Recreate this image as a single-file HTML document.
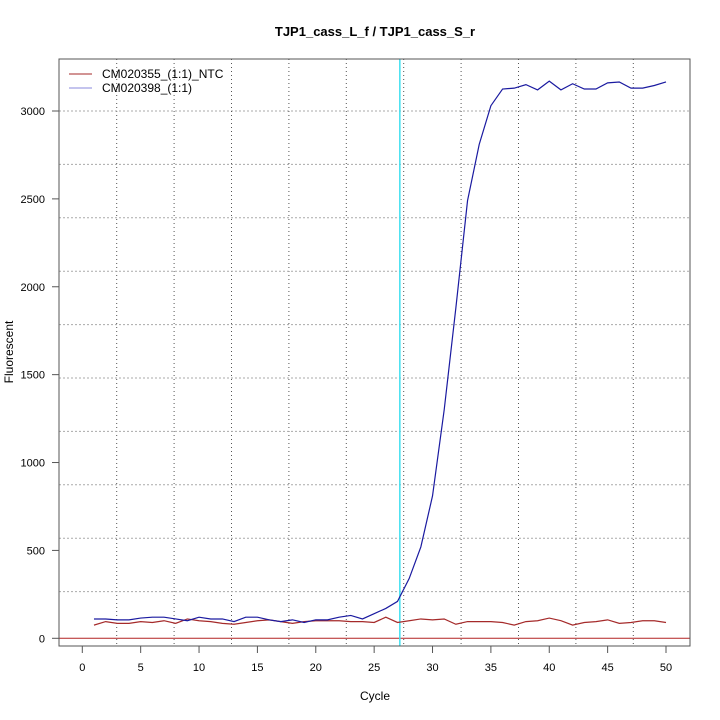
<!DOCTYPE html>
<html><head><meta charset="utf-8"><style>
body{margin:0;background:#fff}
svg{display:block;font-family:"Liberation Sans",sans-serif}
</style></head><body>
<svg id="chart" width="720" height="720">
<rect width="720" height="720" fill="#fff"/>
<text x="375" y="36" text-anchor="middle" font-size="13" font-weight="bold">TJP1_cass_L_f / TJP1_cass_S_r</text>
<text x="375" y="700" text-anchor="middle" font-size="12">Cycle</text>
<text x="13" y="352" text-anchor="middle" font-size="12" transform="rotate(-90 13 352)">Fluorescent</text>
<g id="grid"></g><g id="marks"></g><g id="axes"></g>
<rect x="59" y="59" width="631" height="587" fill="none" stroke="#555" stroke-width="1"/>
<g>
<line x1="69" y1="74" x2="92" y2="74" stroke="#a52a2a"/>
<text x="102" y="78" font-size="12">CM020355_(1:1)_NTC</text>
<line x1="69" y1="88" x2="92" y2="88" stroke="#8888dd"/>
<text x="102" y="92" font-size="12">CM020398_(1:1)</text>
</g>
</svg>
<script>
const cycles=[];for(let i=1;i<=50;i++)cycles.push(i);
const sampleValues=[110,110,105,105,115,120,120,110,100,120,110,110,95,120,120,105,95,105,90,105,105,120,130,110,140,170,210,340,520,810,1300,1880,2490,2810,3030,3125,3130,3150,3120,3170,3120,3155,3125,3125,3160,3165,3130,3130,3145,3165];
const ntcValues=[75,95,85,85,95,90,100,85,110,100,95,85,80,90,100,105,95,85,95,100,100,100,95,95,90,120,90,100,110,105,110,80,95,95,95,90,75,95,100,115,100,75,90,95,105,85,90,100,100,90];
const xTicks=[0,5,10,15,20,25,30,35,40,45,50];
const yTicks=[0,500,1000,1500,2000,2500,3000];
const threshold=0;
const ctCycle=27.2;
const X=v=>82.3+v*11.674;
const Y=v=>638.3-v*0.17577;
const NS="http://www.w3.org/2000/svg";
function mk(tag,attrs,parent){const e=document.createElementNS(NS,tag);for(const k in attrs)e.setAttribute(k,attrs[k]);parent.appendChild(e);return e;}
const grid=document.getElementById('grid'),marks=document.getElementById('marks'),axes=document.getElementById('axes');
for(let i=0;i<10;i++){const gx=116.7+i*57.4;
 const l=mk('line',{x1:gx,y1:59,x2:gx,y2:646,stroke:'#555','stroke-dasharray':'1,3'},grid);
 
 
 const gy=111+i*53.4;
 const h=mk('line',{x1:59,y1:gy,x2:690,y2:gy,stroke:'#aaa','stroke-dasharray':'2,2'},grid);
 
 }
xTicks.forEach(t=>{const l=mk('line',{x1:X(t),y1:646,x2:X(t),y2:653,stroke:'#555'},axes);
 
 
 const tx=mk('text',{x:X(t),y:671,'text-anchor':'middle','font-size':'11'},axes);tx.textContent=t;
 
 });
yTicks.forEach(t=>{const l=mk('line',{x1:52,y1:Y(t),x2:59,y2:Y(t),stroke:'#555'},axes);
 
 
 const tx=mk('text',{x:45,y:Y(t)+4,'text-anchor':'end','font-size':'11'},axes);tx.textContent=t;
 
 });
const th=mk('line',{x1:59,y1:Y(threshold),x2:690,y2:Y(threshold),stroke:'#b22222'},marks);


const ct=mk('line',{x1:X(ctCycle),y1:59,x2:X(ctCycle),y2:646,stroke:'#40e0f0','stroke-width':'1.5'},marks);


const pts=a=>a.map((v,i)=>X(cycles[i])+','+Y(v)).join(' ');
const r=mk('polyline',{points:pts(ntcValues),fill:'none',stroke:'#a52a2a','stroke-width':'1.2'},marks);


const b=mk('polyline',{points:pts(sampleValues),fill:'none',stroke:'#1a1aa0','stroke-width':'1.2'},marks);


</script>
</body></html>
